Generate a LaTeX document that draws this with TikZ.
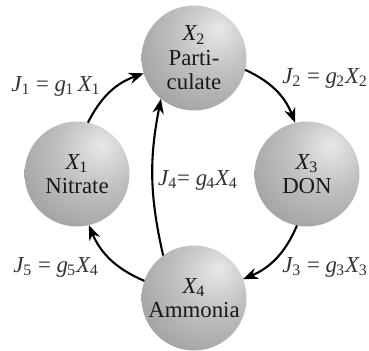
\documentclass[tikz,border=0pt]{standalone}
\usepackage{fontspec}
\setmainfont{Liberation Serif}
\usetikzlibrary{arrows.meta}
\pgfdeclareradialshading{sphere}{\pgfpoint{12bp}{14bp}}{%
  color(0bp)=(gray!18); color(18bp)=(gray!48); color(42bp)=(gray!78);
  color(60bp)=(gray!100); color(100bp)=(gray!100)}
\newcommand{\var}[2]{\textit{#1}\kern-0.5pt\textsubscript{#2}}
\begin{document}
\begin{tikzpicture}[x=0.02cm,y=0.02cm,
    ball/.style={circle,shading=sphere,minimum size=2.1cm,inner sep=0pt,
      outer sep=0pt,align=center,text=black!90,font=\fontsize{13}{14}\selectfont},
    flow/.style={-{Stealth[length=8.5pt,width=6.5pt]},line width=1.2pt},
    rate/.style={text=black!80,font=\fontsize{13}{14}\selectfont}]
  \useasboundingbox (0,0) rectangle (369,351);
  \node[ball] (x2) at (194,293) {\var{X}{2}\\Parti-\\culate};
  \node[ball] (x1) at (77,177) {\var{X}{1}\\Nitrate};
  \node[ball] (x3) at (307,177) {\var{X}{3}\\DON};
  \node[ball] (x4) at (194,53) {\var{X}{4}\\Ammonia};
  \draw[flow] (x1.78) to[bend left=22] (x2.197);
  \draw[flow] (x2.-13) to[bend left=22] (x3.103);
  \draw[flow] (x3.259) to[bend left=22] (x4.21);
  \draw[flow] (x4.161) to[bend left=22] (x1.283);
  \draw[flow] (x4.126) to[bend left=12] (x2.231);
  \node[rate] (j1) at (56,265) {\var{J}{1} = \var{g}{1}\,\var{X}{1}};
  \node[rate] (j2) at (325,273) {\var{J}{2} = \var{g}{2}\var{X}{2}};
  \node[rate] (j3) at (325,84) {\var{J}{3} = \var{g}{3}\var{X}{3}};
  \node[rate] (j5) at (56,84) {\var{J}{5} = \var{g}{5}\var{X}{4}};
  \node[rate] (j4) at (198,171) {\var{J}{4}= \var{g}{4}\var{X}{4}};
\end{tikzpicture}
\end{document}
